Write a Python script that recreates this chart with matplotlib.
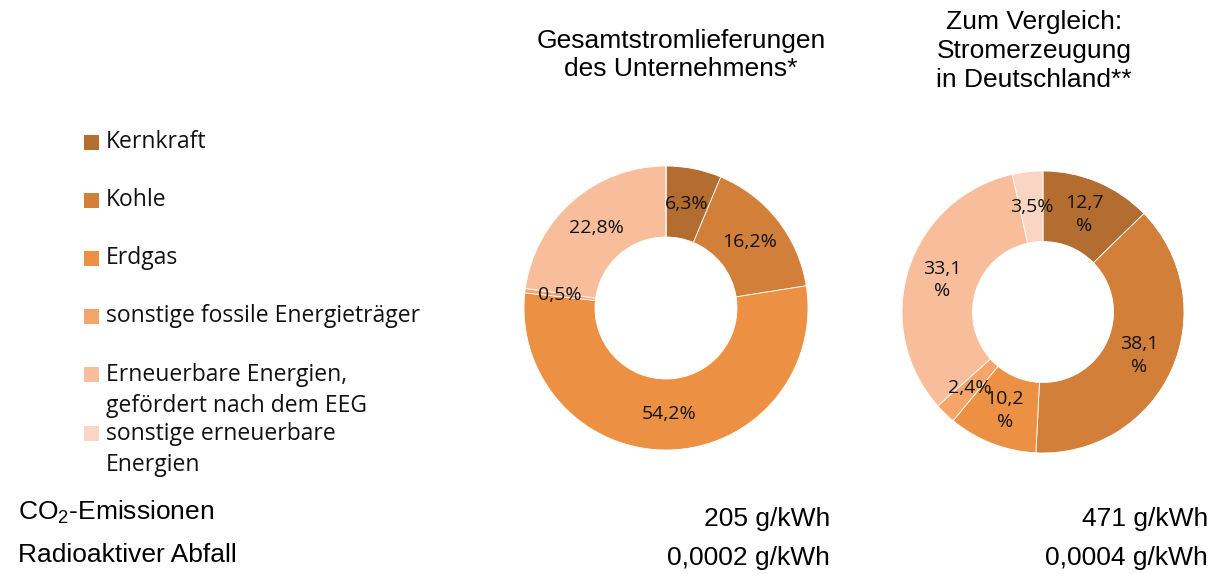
import matplotlib
matplotlib.use("Agg")
import matplotlib.pyplot as plt
from matplotlib.patches import Rectangle
import numpy as np

plt.rcParams['mathtext.fontset'] = 'custom'
plt.rcParams['mathtext.rm'] = 'Liberation Sans'
plt.rcParams['mathtext.it'] = 'Liberation Sans'

# data
categories = ["Kernkraft", "Kohle", "Erdgas", "sonstige fossile Energieträger",
              "Erneuerbare Energien,\ngefördert nach dem EEG",
              "sonstige erneuerbare\nEnergien"]
colors = ["#B36D31", "#D27F3A", "#EC9044", "#F5A46A", "#F8BE9C", "#FAD5C3"]
unternehmen = [6.3, 16.2, 54.2, 0.5, 22.8, 0.0]
deutschland = [12.7, 38.1, 10.2, 2.4, 33.1, 3.5]
labels_unternehmen = ["6,3%", "16,2%", "54,2%", "0,5%", "22,8%", ""]
labels_deutschland = ["12,7\n%", "38,1\n%", "10,2\n%", "2,4%", "33,1\n%", "3,5%"]
titles = ["Gesamtstromlieferungen\ndes Unternehmens*",
          "Zum Vergleich:\nStromerzeugung\nin Deutschland**"]
co2 = ["205 g/kWh", "471 g/kWh"]
abfall = ["0,0002 g/kWh", "0,0004 g/kWh"]

W, H = 1219, 574
fig = plt.figure(figsize=(W / 100, H / 100), dpi=100)


def px_axes(cx, cy, r):
    return fig.add_axes([(cx - r) / W, 1 - (cy + r) / H, 2 * r / W, 2 * r / H])


def donut(ax, values, labels):
    wedges, _ = ax.pie(values, colors=colors, startangle=90, counterclock=False,
                       radius=1.0, wedgeprops=dict(width=0.5, edgecolor='white', linewidth=0.6))
    for w, lab in zip(wedges, labels):
        if not lab:
            continue
        ang = np.deg2rad((w.theta1 + w.theta2) / 2)
        ax.text(0.75 * np.cos(ang), 0.75 * np.sin(ang), lab, ha='center', va='center',
                fontsize=14, family='Open Sans', color='#111111', linespacing=1.3)
    ax.set_xlim(-1, 1)
    ax.set_ylim(-1, 1)
    ax.set_aspect('equal')
    ax.axis('off')


ax1 = px_axes(666, 308, 142)
donut(ax1, unternehmen, labels_unternehmen)
ax2 = px_axes(1043, 312, 141)
donut(ax2, deutschland, labels_deutschland)

# titles
fig.text(681 / W, 1 - 55 / H, titles[0], ha='center', va='center', fontsize=19,
         family='Liberation Sans', linespacing=1.25)
fig.text(1034 / W, 1 - 51 / H, titles[1], ha='center', va='center', fontsize=19,
         family='Liberation Sans', linespacing=1.25)

# legend
legend_y = [142, 200, 258, 316, 374, 433]
for name, c, y in zip(categories, colors, legend_y):
    fig.patches.append(Rectangle((84 / W, 1 - (y + 7.5) / H), 15 / W, 15 / H,
                                 transform=fig.transFigure, facecolor=c, edgecolor='none'))
    if '\n' in name:
        fig.text(106 / W, 1 - (y + 16.5) / H, name, ha='left', va='center', fontsize=16.5,
                 family='Open Sans', color='#111111', linespacing=1.4)
    else:
        fig.text(106 / W, 1 - y / H, name, ha='left', va='center', fontsize=16.5,
                 family='Open Sans', color='#111111')

# bottom rows
fig.text(18 / W, 1 - 512 / H, "CO$_2$-Emissionen", ha='left', va='center', fontsize=19,
         family='Liberation Sans')
fig.text(18 / W, 1 - 555 / H, "Radioaktiver Abfall", ha='left', va='center', fontsize=19,
         family='Liberation Sans')
for x, a, b in zip([830, 1208], co2, abfall):
    fig.text(x / W, 1 - 519 / H, a, ha='right', va='center', fontsize=19, family='Liberation Sans')
    fig.text(x / W, 1 - 558 / H, b, ha='right', va='center', fontsize=19, family='Liberation Sans')

fig.savefig("out.png", dpi=100)
